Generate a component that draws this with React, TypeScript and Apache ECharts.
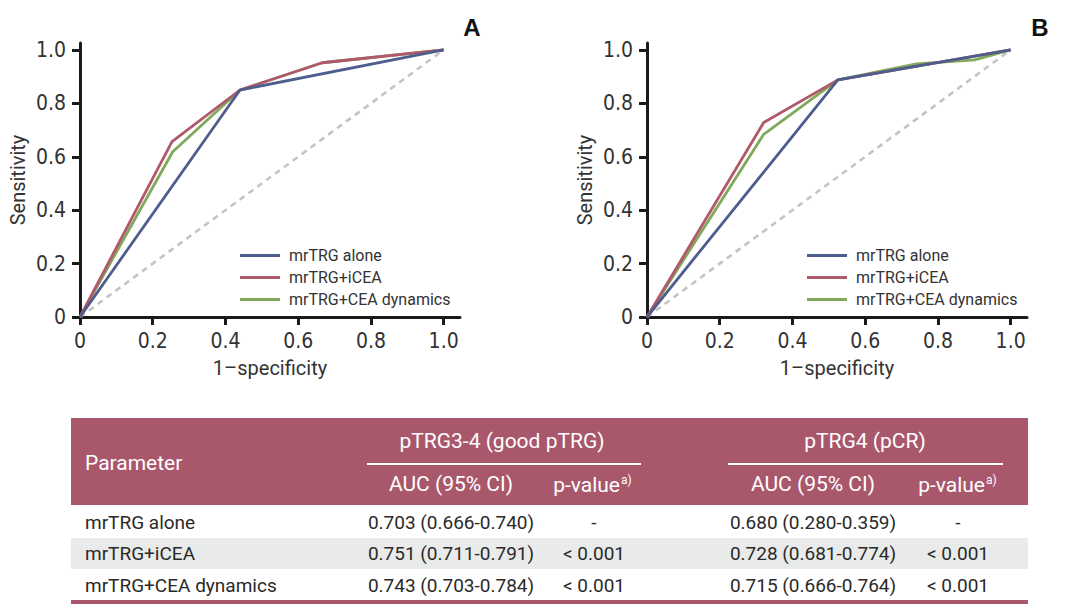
import React, { useEffect, useRef } from "react";
import * as echarts from "echarts";

// ---------- data ----------
const seriesNames = ["mrTRG alone", "mrTRG+iCEA", "mrTRG+CEA dynamics"];
const seriesColors = ["#4d5d8d", "#b0596b", "#80a95b"];

// Panel A (1-specificity, sensitivity)
const aAloneX = [0, 0.44, 1];
const aAloneY = [0, 0.85, 1];
const aIceaX = [0, 0.253, 0.44, 0.666, 1];
const aIceaY = [0, 0.657, 0.85, 0.952, 1];
const aDynX = [0, 0.255, 0.44, 0.666, 1];
const aDynY = [0, 0.619, 0.85, 0.952, 1];

// Panel B
const bAloneX = [0, 0.525, 1];
const bAloneY = [0, 0.888, 1];
const bIceaX = [0, 0.321, 0.525, 1];
const bIceaY = [0, 0.728, 0.888, 1];
const bDynX = [0, 0.321, 0.525, 0.741, 0.901, 1];
const bDynY = [0, 0.684, 0.888, 0.948, 0.963, 1];

const refX = [0, 1];
const refY = [0, 1];

const tickValues = [0, 0.2, 0.4, 0.6, 0.8, 1.0];

// Table
const tableParams = ["mrTRG alone", "mrTRG+iCEA", "mrTRG+CEA dynamics"];
const aucGood = ["0.703 (0.666-0.740)", "0.751 (0.711-0.791)", "0.743 (0.703-0.784)"];
const pGood = ["-", "< 0.001", "< 0.001"];
const aucPcr = ["0.680 (0.280-0.359)", "0.728 (0.681-0.774)", "0.715 (0.666-0.764)"];
const pPcr = ["-", "< 0.001", "< 0.001"];
const groupHeaders = ["pTRG3-4 (good pTRG)", "pTRG4 (pCR)"];

const zip = (xs: number[], ys: number[]) => xs.map((x, i) => [x, ys[i]]);

export default function App() {
  const ref = useRef<HTMLDivElement>(null);

  useEffect(() => {
    if (!ref.current) return;
    const chart = echarts.init(ref.current, undefined, { renderer: "svg" });

    const tickFont = {
      fontFamily: "'Liberation Sans Narrow', 'DejaVu Sans Condensed', Roboto, sans-serif",
      fontSize: 21,
      color: "#333",
    };
    const nameFont = { fontFamily: "Roboto, sans-serif", fontSize: 20, color: "#333" };

    const mkX = (gi: number) => ({
      type: "value",
      gridIndex: gi,
      min: 0,
      max: 1.045,
      name: "1\u2013specificity",
      nameLocation: "middle",
      nameGap: 41,
      nameTextStyle: nameFont,
      splitLine: { show: false },
      axisLine: { show: true, lineStyle: { color: "#1a1a1a", width: 3 } },
      axisTick: { show: true, length: 8, lineStyle: { color: "#1a1a1a", width: 3 }, customValues: tickValues },
      axisLabel: {
        ...tickFont,
        margin: 13,
        customValues: tickValues,
        formatter: (v: number) => (v === 0 ? "0" : v.toFixed(1)),
      },
    });
    const mkY = (gi: number) => ({
      type: "value",
      gridIndex: gi,
      min: 0,
      max: 1.026,
      name: "Sensitivity",
      nameLocation: "middle",
      nameGap: 52,
      nameTextStyle: nameFont,
      splitLine: { show: false },
      axisLine: { show: true, lineStyle: { color: "#1a1a1a", width: 3 } },
      axisTick: { show: true, length: 8, lineStyle: { color: "#1a1a1a", width: 3 }, customValues: tickValues },
      axisLabel: {
        ...tickFont,
        margin: 14,
        customValues: tickValues,
        formatter: (v: number) => (v === 0 ? "0" : v.toFixed(1)),
      },
    });

    const lineSeries = (name: string, color: string, gi: number, data: number[][]) => ({
      type: "line",
      name,
      xAxisIndex: gi,
      yAxisIndex: gi,
      data,
      symbol: "none",
      showSymbol: false,
      silent: true,
      color,
      lineStyle: { color, width: 2.8 },
    });
    const refSeries = (gi: number) => ({
      type: "line",
      name: "ref",
      xAxisIndex: gi,
      yAxisIndex: gi,
      data: zip(refX, refY),
      symbol: "none",
      silent: true,
      lineStyle: { color: "#c4c4c4", width: 2.6, type: [6, 5] },
    });

    const legendCommon = {
      orient: "vertical",
      data: seriesNames,
      icon: "rect",
      itemWidth: 40,
      itemHeight: 3,
      itemGap: 5,
      selectedMode: false,
      textStyle: { fontFamily: "Roboto, sans-serif", fontSize: 16, color: "#333", padding: [0, 0, 0, 4], lineHeight: 17 },
    };

    // table graphics
    const tL = 71, tR = 1028;
    const headerTop = 418, headerBot = 505;
    const rowY = [522, 553, 585];
    const colAuc1 = 451, colP1 = 594, colAuc2 = 813, colP2 = 958;
    const mauve = "#a9586c";
    const white = "#ffffff";
    const txt = (text: string, x: number, y: number, size: number, fill: string, align = "center") => ({
      type: "text",
      silent: true,
      style: {
        text,
        x,
        y,
        fill,
        fontFamily: "Roboto, sans-serif",
        fontSize: size,
        textAlign: align,
        align,
        textVerticalAlign: "middle",
        verticalAlign: "middle",
      },
    });

    const graphics: any[] = [
      {
        type: "rect",
        silent: true,
        shape: { x: tL, y: headerTop, width: tR - tL, height: headerBot - headerTop },
        style: { fill: mauve },
      },
      {
        type: "rect",
        silent: true,
        shape: { x: tL, y: 538, width: tR - tL, height: 31 },
        style: { fill: "#e9ebea" },
      },
      {
        type: "rect",
        silent: true,
        shape: { x: tL, y: 600, width: tR - tL, height: 4 },
        style: { fill: mauve },
      },
      {
        type: "line",
        silent: true,
        shape: { x1: 367, y1: 464, x2: 641, y2: 464 },
        style: { stroke: white, lineWidth: 2 },
      },
      {
        type: "line",
        silent: true,
        shape: { x1: 728, y1: 464, x2: 1003, y2: 464 },
        style: { stroke: white, lineWidth: 2 },
      },
      txt("Parameter", 85, 463, 21, white, "left"),
      txt(groupHeaders[0], 502, 441, 21, white),
      txt(groupHeaders[1], 865, 441, 21, white),
      txt("AUC (95% CI)", colAuc1, 484, 21, white),
      txt("AUC (95% CI)", colAuc2, 484, 21, white),
      txt("p-value", 620, 485, 21, white, "right"),
      txt("a)", 621, 480, 12, white, "left"),
      txt("p-value", 985, 485, 21, white, "right"),
      txt("a)", 986, 480, 12, white, "left"),
      // panel letters
      {
        type: "text",
        silent: true,
        style: {
          text: "A",
          x: 472,
          y: 27,
          fill: "#111",
          fontFamily: "'Liberation Sans', Arial, sans-serif",
          fontWeight: "bold",
          fontSize: 24,
          textAlign: "center",
          align: "center",
          textVerticalAlign: "middle",
          verticalAlign: "middle",
        },
      },
      {
        type: "text",
        silent: true,
        style: {
          text: "B",
          x: 1040,
          y: 27,
          fill: "#111",
          fontFamily: "'Liberation Sans', Arial, sans-serif",
          fontWeight: "bold",
          fontSize: 24,
          textAlign: "center",
          align: "center",
          textVerticalAlign: "middle",
          verticalAlign: "middle",
        },
      },
    ];
    tableParams.forEach((p, i) => {
      const y = rowY[i];
      graphics.push(txt(p, 85, y, 19, "#2a2a2a", "left"));
      graphics.push(txt(aucGood[i], colAuc1, y, 19, "#2a2a2a"));
      graphics.push(txt(pGood[i], colP1, y, 19, "#2a2a2a"));
      graphics.push(txt(aucPcr[i], colAuc2, y, 19, "#2a2a2a"));
      graphics.push(txt(pPcr[i], colP2, y, 19, "#2a2a2a"));
    });

    const option: any = {
      animation: false,
      backgroundColor: "#ffffff",
      grid: [
        { left: 80, top: 43, width: 380, height: 274, containLabel: false },
        { left: 647, top: 43, width: 380, height: 274, containLabel: false },
      ],
      xAxis: [mkX(0), mkX(1)],
      yAxis: [mkY(0), mkY(1)],
      legend: [
        { ...legendCommon, left: 235, top: 242 },
        { ...legendCommon, left: 802, top: 242 },
      ],
      series: [
        refSeries(0),
        lineSeries(seriesNames[2], seriesColors[2], 0, zip(aDynX, aDynY)),
        lineSeries(seriesNames[1], seriesColors[1], 0, zip(aIceaX, aIceaY)),
        lineSeries(seriesNames[0], seriesColors[0], 0, zip(aAloneX, aAloneY)),
        refSeries(1),
        lineSeries(seriesNames[2], seriesColors[2], 1, zip(bDynX, bDynY)),
        lineSeries(seriesNames[1], seriesColors[1], 1, zip(bIceaX, bIceaY)),
        lineSeries(seriesNames[0], seriesColors[0], 1, zip(bAloneX, bAloneY)),
      ],
      graphic: graphics,
    };

    chart.setOption(option);
    return () => chart.dispose();
  }, []);

  return (
    <div
      ref={ref}
      style={{ position: "absolute", left: 0, top: 0, width: 1067, height: 609, background: "#fff" }}
    />
  );
}
